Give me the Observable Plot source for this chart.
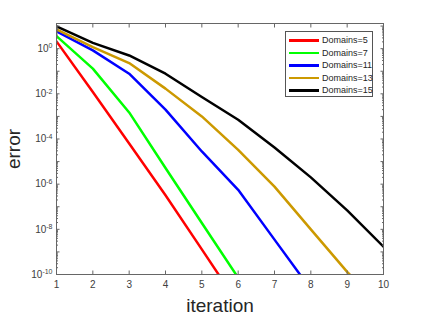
<!DOCTYPE html>
<html><head><meta charset="utf-8">
<script src="https://cdn.jsdelivr.net/npm/d3@7"></script>
<script src="https://cdn.jsdelivr.net/npm/@observablehq/plot@0.6"></script>
<style>
html,body{margin:0;padding:0;background:#fff;}
#wrap{position:relative;width:423px;height:317px;font-family:"Liberation Sans",Arial,sans-serif;}
#legend{position:absolute;left:285px;top:31px;width:88px;height:66px;box-sizing:border-box;border:1px solid #555;background:#fff;}
.entry{position:absolute;left:0;height:12px;display:flex;align-items:center;font-size:9px;color:#262626;white-space:nowrap;}
.swatch{display:inline-block;width:30px;height:2.5px;margin-left:3px;margin-right:3px;}
</style></head>
<body><div id="wrap"></div>
<script>
// ---- data ----
const iterations = [1, 2, 3, 4, 5, 6, 7, 8, 9, 10];
const seriesNames = ["Domains=5", "Domains=7", "Domains=11", "Domains=13", "Domains=15"];
const seriesColors = ["#ff0000", "#00ff00", "#0000ff", "#cc9900", "#000000"];
const domains5  = [2.1, 1.2e-2, 6.3e-5, 3.2e-7, 1.3e-9, 5e-12];
const domains7  = [3.6, 0.13, 1.5e-3, 5.2e-6, 1.9e-8, 7.2e-11, 2.5e-13];
const domains11 = [5.9, 0.84, 0.078, 2.0e-3, 2.8e-5, 5.6e-7, 3.5e-9, 2.2e-11];
const domains13 = [7.2, 1.17, 0.23, 0.017, 1.0e-3, 3.3e-5, 7.8e-7, 1.0e-8, 1.3e-10, 3e-12];
const domains15 = [9.8, 1.8, 0.5, 0.078, 7.2e-3, 7.1e-4, 4.2e-5, 2.0e-6, 6.9e-8, 1.7e-9];
const xTicks = [1, 2, 3, 4, 5, 6, 7, 8, 9, 10];
const yLabelTicks = [1, 1e-2, 1e-4, 1e-6, 1e-8, 1e-10];
const yLabelExps = ["0", "-2", "-4", "-6", "-8", "-10"];
const yDecades = [10, 1, 1e-1, 1e-2, 1e-3, 1e-4, 1e-5, 1e-6, 1e-7, 1e-8, 1e-9, 1e-10];
const yDomain = [1e-10, 13];
const xLabel = "iteration";
const yLabel = "error";

const allSeries = [domains5, domains7, domains11, domains13, domains15];
const rows = allSeries.flatMap((vals, i) => vals.map((v, j) => ({x: iterations[j], y: v, name: seriesNames[i]})));
const yMinor = yDecades.flatMap(d => [2,3,4,5,6,7,8,9].map(m => m * d / 10)).filter(v => v > yDomain[0] && v < yDomain[1]);

const gray = "#666";
const chart = Plot.plot({
  width: 423, height: 317,
  marginLeft: 56, marginRight: 40, marginTop: 23, marginBottom: 43,
  style: {fontFamily: "'Liberation Sans', Arial, sans-serif", fontSize: "10px", color: "#404040", background: "transparent"},
  x: {domain: [1, 10]},
  y: {type: "log", domain: yDomain},
  color: {domain: seriesNames, range: seriesColors},
  marks: [
    Plot.line(rows, {x: "x", y: "y", z: "name", stroke: "name", strokeWidth: 2.5, clip: true}),
    Plot.frame({stroke: gray}),
    Plot.axisX({ticks: xTicks, tickSize: 0, tickPadding: 6, tickFormat: d => String(d), label: xLabel, labelAnchor: "center", labelArrow: "none", labelOffset: 37}),
    Plot.axisX({ticks: xTicks, anchor: "bottom", tickSize: -3.5, stroke: gray, fill: "none"}),
    Plot.axisX({ticks: xTicks, anchor: "top", tickSize: -3.5, stroke: gray, fill: "none"}),
    Plot.axisY({ticks: yLabelTicks, tickSize: 0, tickPadding: 4, tickFormat: d => "10^" + yLabelExps[yLabelTicks.indexOf(d)], label: yLabel, labelAnchor: "center", labelArrow: "none", labelOffset: 50}),
    Plot.axisY({ticks: yDecades, anchor: "left", tickSize: -3.5, stroke: gray, fill: "none"}),
    Plot.axisY({ticks: yDecades, anchor: "right", tickSize: -3.5, stroke: gray, fill: "none"}),
    Plot.axisY({ticks: yMinor, anchor: "left", tickSize: -2, stroke: gray, fill: "none"}),
    Plot.axisY({ticks: yMinor, anchor: "right", tickSize: -2, stroke: gray, fill: "none"})
  ]
});

// superscript exponents on y tick labels
d3.select(chart).selectAll('g[aria-label="y-axis tick label"] text').each(function() {
  const t = this.textContent;
  if (!t.startsWith("10^")) return;
  const exp = t.slice(3);
  this.textContent = "10";
  const ts = document.createElementNS("http://www.w3.org/2000/svg", "tspan");
  ts.setAttribute("dy", "-0.5em");
  ts.setAttribute("font-size", "7px");
  ts.textContent = exp;
  this.appendChild(ts);
});
// axis labels styling
d3.select(chart).selectAll('g[aria-label="x-axis label"] text, g[aria-label="y-axis label"] text')
  .attr("font-size", "19px").attr("fill", "#262626");

const wrap = document.getElementById("wrap");
wrap.appendChild(chart);

// legend (inside plot, upper right)
const legend = document.createElement("div");
legend.id = "legend";
seriesNames.forEach((name, i) => {
  const e = document.createElement("div");
  e.className = "entry";
  e.style.top = (2.3 + i * 12.5) + "px";
  const sw = document.createElement("span");
  sw.className = "swatch";
  sw.style.background = seriesColors[i];
  const tx = document.createElement("span");
  tx.textContent = name;
  e.appendChild(sw); e.appendChild(tx);
  legend.appendChild(e);
});
wrap.appendChild(legend);
</script>
</body></html>
